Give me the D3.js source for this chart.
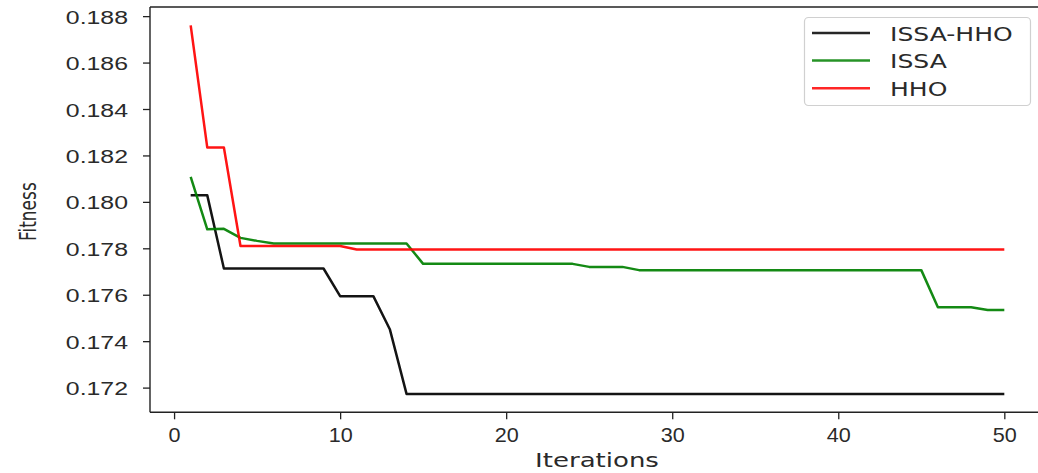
<!DOCTYPE html>
<html>
<head>
<meta charset="utf-8">
<script src="https://cdn.jsdelivr.net/npm/d3@7"></script>
<style>
  html, body { margin: 0; padding: 0; background: #fff; }
  svg { display: block; font-family: "DejaVu Sans", sans-serif; }
</style>
</head>
<body>
<svg id="chart" width="1038" height="473"></svg>
<script>
// ---- data ----
const iterations = d3.range(1, 51);
const seriesNames = ["ISSA-HHO", "ISSA", "HHO"];
const seriesColors = ["#000000", "#008000", "#ff0000"];
const issaHho = [
  0.18028, 0.18028, 0.17713, 0.17713, 0.17713, 0.17713, 0.17713, 0.17713, 0.17713, 0.17594,
  0.17594, 0.17594, 0.17450, 0.17173, 0.17173, 0.17173, 0.17173, 0.17173, 0.17173, 0.17173,
  0.17173, 0.17173, 0.17173, 0.17173, 0.17173, 0.17173, 0.17173, 0.17173, 0.17173, 0.17173,
  0.17173, 0.17173, 0.17173, 0.17173, 0.17173, 0.17173, 0.17173, 0.17173, 0.17173, 0.17173,
  0.17173, 0.17173, 0.17173, 0.17173, 0.17173, 0.17173, 0.17173, 0.17173, 0.17173, 0.17173
];
const issa = [
  0.18108, 0.17882, 0.17884, 0.17845, 0.17832, 0.17821, 0.17821, 0.17821, 0.17821, 0.17821,
  0.17821, 0.17821, 0.17821, 0.17821, 0.17733, 0.17733, 0.17733, 0.17733, 0.17733, 0.17733,
  0.17733, 0.17733, 0.17733, 0.17733, 0.17720, 0.17720, 0.17720, 0.17706, 0.17706, 0.17706,
  0.17706, 0.17706, 0.17706, 0.17706, 0.17706, 0.17706, 0.17706, 0.17706, 0.17706, 0.17706,
  0.17706, 0.17706, 0.17706, 0.17706, 0.17706, 0.17546, 0.17546, 0.17546, 0.17534, 0.17534
];
const hho = [
  0.18760, 0.18234, 0.18234, 0.17810, 0.17810, 0.17810, 0.17810, 0.17810, 0.17810, 0.17810,
  0.17795, 0.17795, 0.17795, 0.17795, 0.17795, 0.17795, 0.17795, 0.17795, 0.17795, 0.17795,
  0.17795, 0.17795, 0.17795, 0.17795, 0.17795, 0.17795, 0.17795, 0.17795, 0.17795, 0.17795,
  0.17795, 0.17795, 0.17795, 0.17795, 0.17795, 0.17795, 0.17795, 0.17795, 0.17795, 0.17795,
  0.17795, 0.17795, 0.17795, 0.17795, 0.17795, 0.17795, 0.17795, 0.17795, 0.17795, 0.17795
];
const xTicks = [0, 10, 20, 30, 40, 50];
const yTicks = [0.172, 0.174, 0.176, 0.178, 0.180, 0.182, 0.184, 0.186, 0.188];
const xLabel = "Iterations";
const yLabel = "Fitness";

const seriesValues = [issaHho, issa, hho];

// ---- layout ----
const svg = d3.select("#chart");
const plot = { left: 150, right: 1045, top: 7, bottom: 412.3 };

const allVals = seriesValues.flat();
const yMin = d3.min(allVals), yMax = d3.max(allVals);
const yPad = (yMax - yMin) * 0.05;
const xPad = (d3.max(iterations) - d3.min(iterations)) * 0.05;

const x = d3.scaleLinear()
  .domain([d3.min(iterations) - xPad, d3.max(iterations) + xPad])
  .range([plot.left, plot.right]);
const y = d3.scaleLinear()
  .domain([yMin - yPad, yMax + yPad])
  .range([plot.bottom, plot.top]);

// lines
const line = d3.line()
  .x((d, i) => x(iterations[i]))
  .y(d => y(d));

svg.append("defs").append("clipPath").attr("id", "clip")
  .append("rect").attr("x", plot.left).attr("y", plot.top)
  .attr("width", plot.right - plot.left).attr("height", plot.bottom - plot.top);

const lines = svg.append("g").attr("clip-path", "url(#clip)");
seriesValues.forEach((vals, k) => {
  lines.append("path")
    .datum(vals)
    .attr("d", line)
    .attr("fill", "none")
    .attr("stroke", seriesColors[k])
    .attr("stroke-opacity", 0.92)
    .attr("stroke-width", 2.5)
    .attr("stroke-linejoin", "round")
    .attr("stroke-linecap", "butt");
});

// frame
const frame = svg.append("g").attr("stroke", "#222").attr("stroke-width", 1.4).attr("fill", "none");
frame.append("line").attr("x1", plot.left).attr("x2", plot.left).attr("y1", plot.top).attr("y2", plot.bottom);
frame.append("line").attr("x1", plot.left).attr("x2", plot.right).attr("y1", plot.bottom).attr("y2", plot.bottom);
frame.append("line").attr("x1", plot.left).attr("x2", plot.right).attr("y1", plot.top).attr("y2", plot.top);
frame.append("line").attr("x1", plot.right).attr("x2", plot.right).attr("y1", plot.top).attr("y2", plot.bottom);

// x axis
const xAxis = d3.axisBottom(x).tickValues(xTicks).tickSize(7).tickPadding(0).tickFormat(d3.format("d"));
const gx = svg.append("g").attr("transform", `translate(0,${plot.bottom})`).call(xAxis);
gx.select(".domain").remove();
gx.selectAll(".tick line").attr("stroke", "#222").attr("stroke-width", 1.3);
gx.selectAll(".tick text")
  .attr("y", 0).attr("dy", null)
  .attr("fill", "#2a2a2a")
  .style("font-size", "20px")
  .attr("transform", "translate(0,29.5) scale(1.08,1)");

// y axis
const yAxis = d3.axisLeft(y).tickValues(yTicks).tickSize(7).tickPadding(0).tickFormat(d3.format(".3f"));
const gy = svg.append("g").attr("transform", `translate(${plot.left},0)`).call(yAxis);
gy.select(".domain").remove();
gy.selectAll(".tick line").attr("stroke", "#222").attr("stroke-width", 1.3);
gy.selectAll(".tick text")
  .attr("x", 0).attr("dy", null).attr("y", 0)
  .attr("fill", "#2a2a2a")
  .style("font-size", "18px")
  .attr("text-anchor", "end")
  .attr("transform", "translate(-22,7) scale(1.38,1)");

// axis labels
svg.append("text")
  .attr("transform", `translate(${(plot.left + 1045) / 2 - 0.5},466.5) scale(1.3,1)`)
  .attr("text-anchor", "middle")
  .attr("fill", "#2a2a2a")
  .style("font-size", "20px")
  .text(xLabel);

svg.append("text")
  .attr("transform", `translate(35.5,${(plot.top + plot.bottom) / 2 + 2}) rotate(-90) scale(1,1.35)`)
  .attr("text-anchor", "middle")
  .attr("fill", "#2a2a2a")
  .style("font-size", "17px")
  .text(yLabel);

// legend
const legend = svg.append("g");
legend.append("rect")
  .attr("x", 804.5).attr("y", 17.5).attr("width", 226).attr("height", 88)
  .attr("rx", 4).attr("fill", "#fff").attr("fill-opacity", 0.9)
  .attr("stroke", "#d0d0d0").attr("stroke-width", 1.2);
seriesNames.forEach((name, k) => {
  const ly = 33 + k * 27.6;
  legend.append("line")
    .attr("x1", 812).attr("x2", 870).attr("y1", ly).attr("y2", ly)
    .attr("stroke", seriesColors[k]).attr("stroke-opacity", 0.85).attr("stroke-width", 2.5);
  legend.append("text")
    .attr("transform", `translate(890,${ly + 7.5}) scale(1.32,1)`)
    .attr("fill", "#2a2a2a")
    .style("font-size", "19px")
    .text(name);
});
</script>
</body>
</html>
